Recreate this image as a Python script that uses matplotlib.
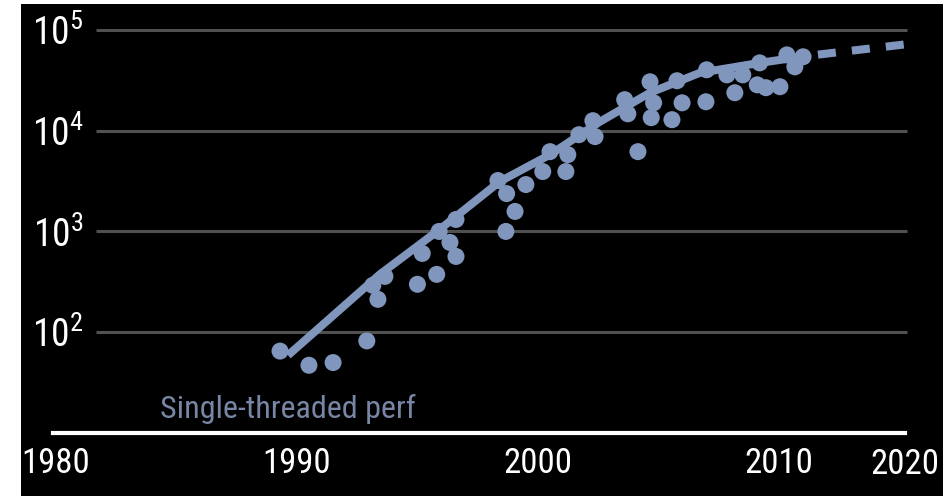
import numpy as np
from matplotlib import pyplot as plt
from matplotlib import font_manager
from matplotlib.patches import Rectangle

# single-threaded performance
years = [1989.3, 1990.5, 1991.5, 1992.9, 1993.15, 1993.36, 1993.65, 1995.0, 1995.8,
         1995.2, 1995.9, 1996.35, 1996.6, 1996.6, 1998.34, 1998.7, 1999.5, 1999.05,
         1998.67, 2000.2, 2000.5, 2001.16, 2001.24, 2001.7, 2002.28, 2002.37, 2003.6,
         2003.73, 2004.15, 2004.65, 2004.8, 2004.7, 2005.56, 2005.77, 2005.98, 2006.97,
         2007.0, 2007.84, 2008.17, 2008.5, 2009.2, 2009.1, 2009.46, 2010.04, 2010.33,
         2010.66, 2011.0]
perf = [65, 47, 50, 82, 292, 212, 358, 299, 375,
        605, 1000, 778, 565, 1315, 3200, 2375, 2920, 1580,
        1000, 3930, 6190, 3930, 5780, 9120, 12560, 8730, 20300,
        14700, 6190, 30550, 18900, 13460, 12850, 31300, 18900, 19360,
        40200, 35800, 23800, 35800, 47100, 28500, 26700, 27300, 56500,
        43000, 54100]

trend_years = [1989.63, 1993.44, 1995.93, 1998.42, 2000.5, 2002.57, 2004.65, 2006.72, 2009.21, 2011.2]
trend_perf = [59, 375, 1050, 3130, 5780, 12270, 23800, 37500, 47100, 55300]
proj_years = [2011.2, 2015.23]
proj_perf = [55300, 71800]

xticks = [1980, 1990, 2000, 2010]
yticks = [1e2, 1e3, 1e4, 1e5]

names = {f.name for f in font_manager.fontManager.ttflist}
font = "DejaVu Sans"
for cand in ["Roboto Condensed", "Liberation Sans Narrow", "Roboto", "Liberation Sans"]:
    if cand in names:
        font = cand
        break
print("font:", font)
plt.rcParams['font.family'] = [font, 'DejaVu Sans']
plt.rcParams['mathtext.fontset'] = 'custom'
plt.rcParams['mathtext.rm'] = font

col = "#8196bc"

fig = plt.figure(figsize=(9.52, 4.96), dpi=100, facecolor="white")
fig.patches.append(Rectangle((21/952, 0), 922/952, 492/496, transform=fig.transFigure,
                             facecolor="black", edgecolor="none", zorder=-10))
ax = fig.add_axes([53/952, 63/496, 852/952, 429/496])
ax.set_facecolor("none")
ax.set_yscale("log")
ax.set_xlim(1979.88, 2015.23)
ax.set_ylim(10, 10**5.257)

ax.hlines(yticks, 1981.66, 2015.3, color="#505050", lw=2.2, zorder=1, clip_on=False)

ax.plot(trend_years, trend_perf, color=col, lw=5.8, solid_capstyle="butt", zorder=3)
ax.plot(proj_years, proj_perf, color=col, lw=5.8, ls=(2.98, (2.24, 2.0)),
        dash_capstyle="butt", zorder=3, clip_on=False)
ax.scatter(years, perf, s=150, color=col, edgecolors="none", zorder=4)

for s in ["top", "left", "right"]:
    ax.spines[s].set_visible(False)
ax.spines["bottom"].set_color("white")
ax.spines["bottom"].set_linewidth(3)

ax.set_xticks(xticks)
ax.set_xticklabels([str(t) for t in xticks])
ax.text(1.0, -0.035, "2020", transform=ax.transAxes, ha="center", va="top",
        color="white", fontsize=25)
ax.set_yticks(yticks)
ax.set_yticklabels([r"$\mathregular{10^{%d}}$" % int(np.log10(t)) for t in yticks])
ax.minorticks_off()
ax.tick_params(axis="x", length=0, pad=10, colors="white", labelsize=25)
ax.tick_params(axis="y", length=0, pad=-22, colors="white", labelsize=27)

ax.text(0.1256, 0.035, "Single-threaded perf", transform=ax.transAxes, ha="left",
        va="baseline", color="#7886a6", fontsize=23)

fig.savefig("out.png", dpi=100, facecolor="white")
